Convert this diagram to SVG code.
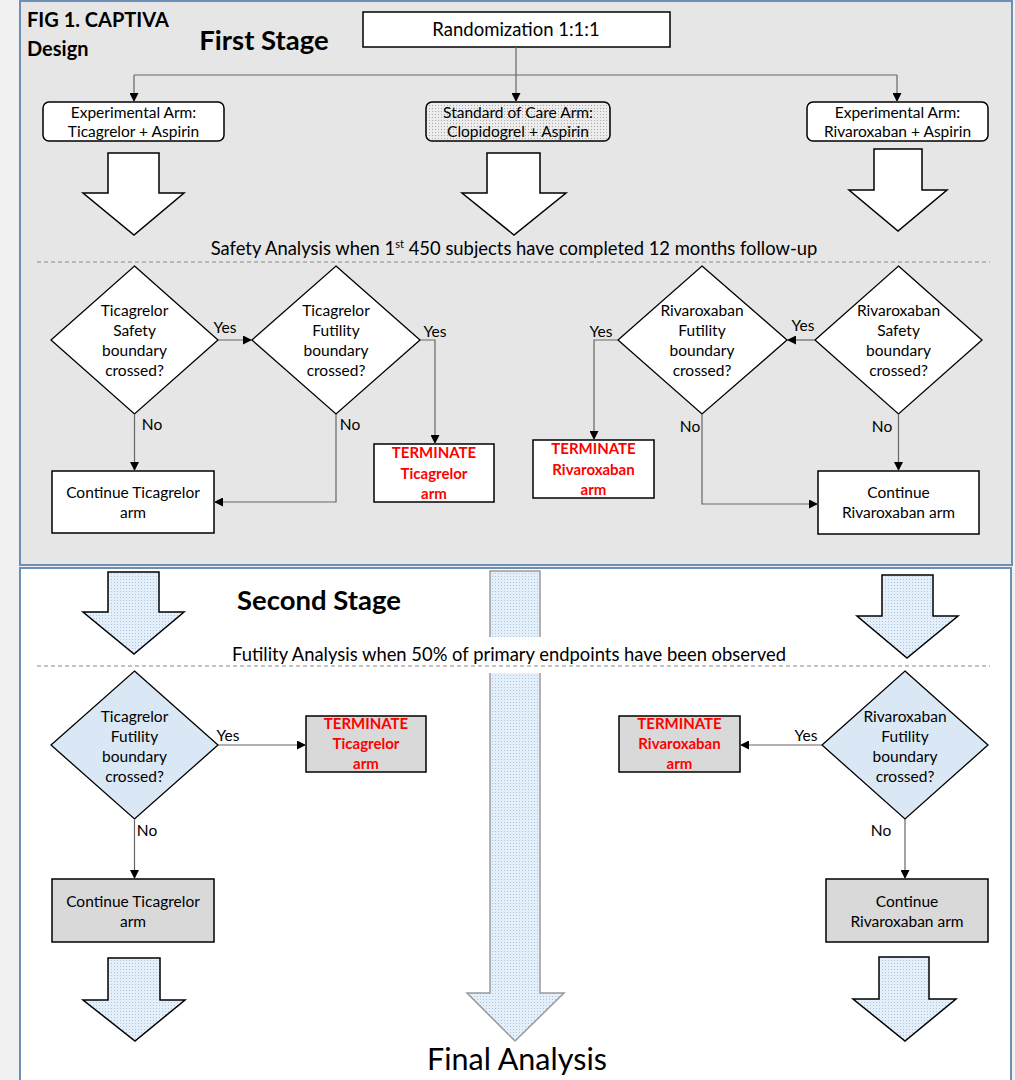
<svg xmlns="http://www.w3.org/2000/svg" width="1015" height="1080" viewBox="0 0 1015 1080">
<defs>
<pattern id="dotsBlue" width="3" height="3" patternUnits="userSpaceOnUse"><rect width="3" height="3" fill="#e4eff9"/><rect width="1" height="1" fill="#a8c5e4"/></pattern>
<pattern id="dotsGrey" width="3" height="3" patternUnits="userSpaceOnUse"><rect width="3" height="3" fill="#ececec"/><rect width="1" height="1" fill="#a8a8a8"/></pattern>
<marker id="ah" viewBox="0 0 10 10" refX="10" refY="5" markerWidth="9" markerHeight="9" markerUnits="userSpaceOnUse" orient="auto"><path d="M0,0 L10,5 L0,10 z" fill="#000"/></marker>
</defs>
<style>
text{font-family:Lato,"Open Sans","Liberation Sans",sans-serif;fill:#000;text-anchor:middle}
.t{font-size:15.5px}
.tb{font-size:15px;font-weight:bold;fill:#ff0000}
.big{font-size:27.5px;font-weight:bold}
.hdr{font-size:20px;font-weight:bold;text-anchor:start}
.ana{font-size:18.4px}
.box{fill:#fff;stroke:#000;stroke-width:1.5}
.gbox{fill:#d9d9d9;stroke:#000;stroke-width:1.5}
.dia{fill:#fff;stroke:#000;stroke-width:1.3}
.bdia{fill:#dae8f5;stroke:#000;stroke-width:1.3}
.conn{fill:none;stroke:#666;stroke-width:1.2;marker-end:url(#ah)}
.warrow{fill:#fff;stroke:#000;stroke-width:1.5}
.barrow{fill:url(#dotsBlue);stroke:#000;stroke-width:1.5}
.dash{stroke:#888;stroke-width:1;stroke-dasharray:4,3}
</style>
<rect x="0" y="0" width="1015" height="1080" fill="#f1f1f1"/>
<g id="stage1-panel"><rect x="20" y="1" width="992" height="564" fill="#e6e6e6" stroke="#6e8fb5" stroke-width="2"/></g>
<g id="stage2-panel"><rect x="20" y="568" width="991" height="520" fill="#fff" stroke="#6e8fb5" stroke-width="2"/></g>

<g id="titles">
<text class="hdr" x="27" y="27">FIG 1. CAPTIVA</text>
<text class="hdr" x="27" y="56">Design</text>
<text class="big" x="264" y="50">First Stage</text>
<text class="big" x="319" y="610">Second Stage</text>
<text x="517" y="1070" style="font-size:30.5px">Final Analysis</text>
</g>

<g id="flow-arrows">
<path class="warrow" d="M108,153 H159 V193 H184 L134,235 L83,193 H108 Z"/>
<path class="warrow" d="M487,153 H540 V193 H566 L514,235 L462,193 H487 Z"/>
<path class="warrow" d="M874,149 H922 V190 H947 L898,231 L849,190 H874 Z"/>
<path class="barrow" d="M108,572 H159 V612 H184 L134,654 L83,612 H108 Z"/>
<path class="barrow" d="M882,575 H933 V616 H958 L907,658 L857,616 H882 Z"/>
<path class="barrow" style="stroke:#9a9a9a" d="M490,571 H540 V993 H564 L515,1041 L467,993 H490 Z"/>
<path class="barrow" d="M108,958 H160 V1000 H185 L135,1041 L83,1000 H108 Z"/>
<path class="barrow" d="M879,957 H929 V999 H956 L905,1041 L853,999 H879 Z"/>
</g>

<g id="analysis1">
<text class="ana" x="514" y="255">Safety Analysis when 1<tspan style="font-size:11px" dy="-7">st</tspan><tspan dy="7"> 450 subjects have completed 12 months follow-up</tspan></text>
<line class="dash" x1="37" y1="262" x2="990" y2="262"/>
</g>
<g id="analysis2">
<rect x="228" y="637" width="562" height="36" fill="#fff"/>
<line class="dash" x1="37" y1="666" x2="990" y2="666"/>
<text class="ana" x="509" y="661">Futility Analysis when 50% of primary endpoints have been observed</text>
</g>

<g id="randomization"><rect class="box" x="363" y="12" width="307" height="35"/><text x="516" y="36" style="font-size:18.5px">Randomization 1:1:1</text></g>
<g id="arm-ticagrelor"><rect class="box" x="43" y="102" width="181" height="39" rx="6"/><text class="t" x="133.5" y="118">Experimental Arm:</text><text class="t" x="133.5" y="137">Ticagrelor + Aspirin</text></g>
<g id="arm-clopidogrel"><rect x="426" y="102" width="184" height="39" rx="6" fill="url(#dotsGrey)" stroke="#000" stroke-width="1.5"/><text class="t" x="518" y="118">Standard of Care Arm:</text><text class="t" x="518" y="137">Clopidogrel + Aspirin</text></g>
<g id="arm-rivaroxaban"><rect class="box" x="807" y="102" width="181" height="39" rx="6"/><text class="t" x="897.5" y="118">Experimental Arm:</text><text class="t" x="897.5" y="137">Rivaroxaban + Aspirin</text></g>

<g id="tic-safety"><path class="dia" d="M134.5,266 L218,340 L134.5,414 L51,340 Z"/><text class="t" x="134.5" y="316">Ticagrelor</text><text class="t" x="134.5" y="336">Safety</text><text class="t" x="134.5" y="356">boundary</text><text class="t" x="134.5" y="376">crossed?</text></g>
<g id="tic-futility1"><path class="dia" d="M336,266 L420,340 L336,414 L252,340 Z"/><text class="t" x="336" y="316">Ticagrelor</text><text class="t" x="336" y="336">Futility</text><text class="t" x="336" y="356">boundary</text><text class="t" x="336" y="376">crossed?</text></g>
<g id="tic-terminate1"><rect class="box" x="374" y="444" width="120" height="58"/><text class="tb" x="434" y="458">TERMINATE</text><text class="tb" x="434" y="479">Ticagrelor</text><text class="tb" x="434" y="499">arm</text></g>
<g id="tic-continue1"><rect class="box" x="52" y="471" width="162" height="62"/><text class="t" x="133" y="498">Continue Ticagrelor</text><text class="t" x="133" y="518">arm</text></g>

<g id="riv-futility1"><path class="dia" d="M702,266 L787,340 L702,414 L618,340 Z"/><text class="t" x="702" y="316">Rivaroxaban</text><text class="t" x="702" y="336">Futility</text><text class="t" x="702" y="356">boundary</text><text class="t" x="702" y="376">crossed?</text></g>
<g id="riv-safety"><path class="dia" d="M898.5,266 L982,340 L898.5,414 L815,340 Z"/><text class="t" x="898.5" y="316">Rivaroxaban</text><text class="t" x="898.5" y="336">Safety</text><text class="t" x="898.5" y="356">boundary</text><text class="t" x="898.5" y="376">crossed?</text></g>
<g id="riv-terminate1"><rect class="box" x="533" y="440" width="121" height="58"/><text class="tb" x="593.5" y="454">TERMINATE</text><text class="tb" x="593.5" y="475">Rivaroxaban</text><text class="tb" x="593.5" y="495">arm</text></g>
<g id="riv-continue1"><rect class="box" x="818" y="471" width="161" height="63"/><text class="t" x="898.5" y="498">Continue</text><text class="t" x="898.5" y="518">Rivaroxaban arm</text></g>

<g id="tic-futility2"><path class="bdia" d="M134.5,671 L218,745 L134.5,819 L51,745 Z"/><text class="t" x="134.5" y="722">Ticagrelor</text><text class="t" x="134.5" y="742">Futility</text><text class="t" x="134.5" y="762">boundary</text><text class="t" x="134.5" y="782">crossed?</text></g>
<g id="tic-terminate2"><rect class="gbox" x="306" y="716" width="120" height="56"/><text class="tb" x="366" y="729">TERMINATE</text><text class="tb" x="366" y="749">Ticagrelor</text><text class="tb" x="366" y="769">arm</text></g>
<g id="tic-continue2"><rect class="gbox" x="52" y="879" width="162" height="63"/><text class="t" x="133" y="907">Continue Ticagrelor</text><text class="t" x="133" y="927">arm</text></g>

<g id="riv-futility2"><path class="bdia" d="M905,671 L988,745 L905,819 L822,745 Z"/><text class="t" x="905" y="722">Rivaroxaban</text><text class="t" x="905" y="742">Futility</text><text class="t" x="905" y="762">boundary</text><text class="t" x="905" y="782">crossed?</text></g>
<g id="riv-terminate2"><rect class="gbox" x="619" y="716" width="121" height="56"/><text class="tb" x="679.5" y="729">TERMINATE</text><text class="tb" x="679.5" y="749">Rivaroxaban</text><text class="tb" x="679.5" y="769">arm</text></g>
<g id="riv-continue2"><rect class="gbox" x="826" y="879" width="162" height="63"/><text class="t" x="907" y="907">Continue</text><text class="t" x="907" y="927">Rivaroxaban arm</text></g>

<g id="connectors">
<path class="conn" d="M516,47 V102"/>
<path style="fill:none;stroke:#666;stroke-width:1.2" d="M134,75 H897"/>
<path class="conn" d="M134,75 V102"/>
<path class="conn" d="M897,75 V102"/>
<path class="conn" d="M218,340 H252"/>
<path class="conn" d="M134.5,414 V471"/>
<path class="conn" d="M420,340 H435 V444"/>
<path class="conn" d="M336,414 V502 H214"/>
<path class="conn" d="M815,340 H787"/>
<path class="conn" d="M618,340 H594 V440"/>
<path class="conn" d="M702,414 V504 H818"/>
<path class="conn" d="M898.5,414 V471"/>
<path class="conn" d="M218,745 H306"/>
<path class="conn" d="M134.5,819 V879"/>
<path class="conn" d="M822,745 H740"/>
<path class="conn" d="M905,819 V879"/>
</g>

<g id="labels">
<text class="t" x="225" y="333">Yes</text>
<text class="t" x="435" y="337">Yes</text>
<text class="t" x="601" y="337">Yes</text>
<text class="t" x="803" y="331">Yes</text>
<text class="t" x="152" y="430">No</text>
<text class="t" x="350" y="430">No</text>
<text class="t" x="690" y="432">No</text>
<text class="t" x="882" y="432">No</text>
<text class="t" x="228" y="741">Yes</text>
<text class="t" x="806" y="741">Yes</text>
<text class="t" x="147" y="836">No</text>
<text class="t" x="881" y="836">No</text>
</g>
</svg>
